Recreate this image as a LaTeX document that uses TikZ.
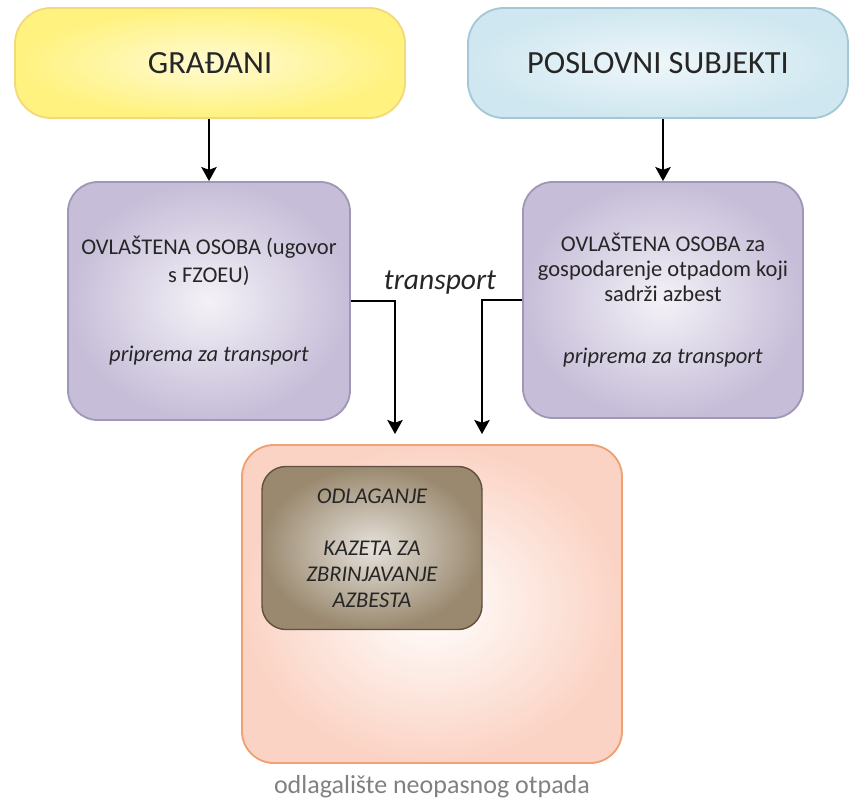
\documentclass[tikz,border=0pt]{standalone}
\usepackage{fontspec}
\setmainfont{Carlito}
\usetikzlibrary{arrows.meta}
\definecolor{yelfill}{HTML}{FFF27E}
\definecolor{yeldraw}{HTML}{F3D97A}
\definecolor{blufill}{HTML}{CFE7F0}
\definecolor{bludraw}{HTML}{A3C8D5}
\definecolor{purfill}{HTML}{C6BDD8}
\definecolor{purdraw}{HTML}{A097B6}
\definecolor{orafill}{HTML}{FBD3C4}
\definecolor{oradraw}{HTML}{F1A072}
\definecolor{brnfill}{HTML}{9A896F}
\definecolor{brndraw}{HTML}{5E5140}
\definecolor{txt}{HTML}{262626}
\tikzstyle{every node}=[text=txt, align=center, inner sep=0pt]
\tikzstyle{box}=[draw, line width=1.3pt, shade]
\tikzstyle{tok}=[line width=1pt, -{Stealth[length=10pt, width=11pt, inset=2pt]}]

\begin{document}
\begin{tikzpicture}[x = 0.025cm, y = -0.025cm]
\useasboundingbox (0,0) rectangle (850,803);
% Senders
    \node[box, rounded corners=0.9cm, inner color=yelfill!35!white, outer color=yelfill, draw=yeldraw,
          minimum width=9.75cm, minimum height=2.75cm, font=\fontsize{23}{26}\selectfont]
          (grad) at (210,63) {GRAĐANI};
    \node[box, rounded corners=0.9cm, inner color=blufill!35!white, outer color=blufill, draw=bludraw,
          minimum width=9.5cm, minimum height=2.75cm, font=\fontsize{23}{26}\selectfont]
          (posl) at (658,63) {POSLOVNI SUBJEKTI};
% Authorised persons
    \node[box, rounded corners=0.75cm, inner color=purfill!20!white, outer color=purfill, draw=purdraw,
          minimum width=7.05cm, minimum height=5.95cm, font=\fontsize{16}{19.5}\selectfont]
          (ovl1) at (209,301) {OVLAŠTENA OSOBA (ugovor\\s FZOEU)\\[37pt]\textit{priprema za transport}};
    \node[box, rounded corners=0.75cm, inner color=purfill!20!white, outer color=purfill, draw=purdraw,
          minimum width=7cm, minimum height=5.9cm, font=\fontsize{16}{18}\selectfont]
          (ovl2) at (663,300) {OVLAŠTENA OSOBA za\\gospodarenje otpadom koji\\sadrži azbest\\[26pt]\textit{priprema za transport}};
% Landfill
    \node[box, rounded corners=0.8cm, inner color=white, outer color=orafill, draw=oradraw,
          minimum width=9.5cm, minimum height=7.95cm] (odl) at (432,604) {};
    \node[box, rounded corners=0.6cm, inner color=brnfill!25!white, outer color=brnfill, draw=brndraw, line width=1pt,
          minimum width=5.5cm, minimum height=4.075cm, font=\fontsize{16}{18.5}\selectfont\itshape]
          (kaz) at (372,548) {ODLAGANJE\\[18.5pt]KAZETA ZA\\ZBRINJAVANJE\\AZBESTA};
    \node[text=black!50, font=\fontsize{18.5}{21}\selectfont] (lbl) at (432,787) {odlagalište neopasnog otpada};
% Connectors
    \coordinate (in1) at (395,434);
    \coordinate (in2) at (482,434);
    \draw[tok] (ovl1.north |- grad.south) -- (ovl1.north);
    \draw[tok] (posl.south -| ovl2.north) -- (ovl2.north);
    \draw[tok] (ovl1.east) -| (in1);
    \draw[tok] (ovl2.west) -| (in2);
    \node[font=\fontsize{21}{24}\selectfont\itshape] (trn) at (440,283) {transport};
\end{tikzpicture}
\end{document}
